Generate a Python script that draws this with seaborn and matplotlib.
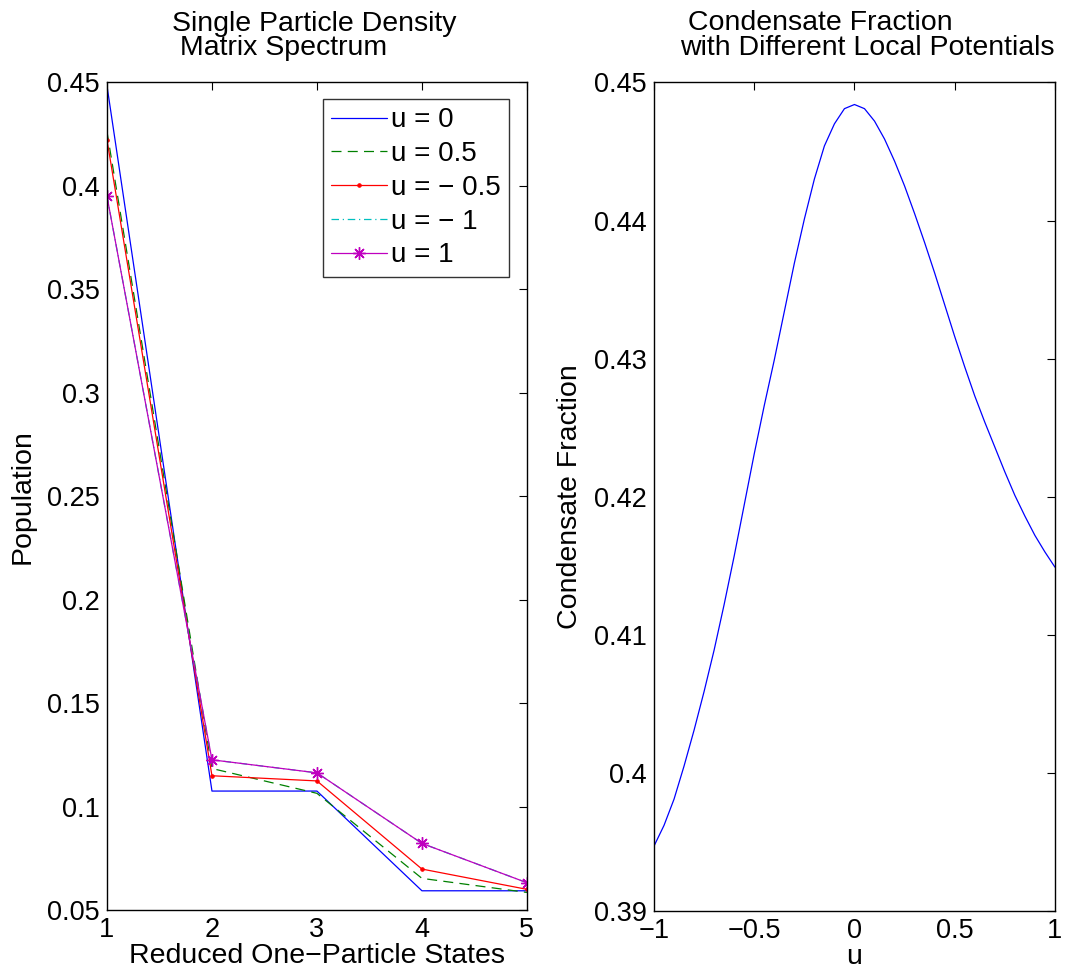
import numpy as np
import pandas as pd
import seaborn as sns
import matplotlib
matplotlib.use("Agg")
import matplotlib.pyplot as plt
from matplotlib.ticker import FuncFormatter

#------------------------------------------------------------------------------------
# data

states = [1, 2, 3, 4, 5]
pop_u0 = [0.4484, 0.1075, 0.1075, 0.0593, 0.0593]
pop_u05 = [0.4262, 0.1184, 0.1064, 0.0653, 0.0585]
pop_um05 = [0.4223, 0.1149, 0.1124, 0.0698, 0.0600]
pop_um1 = [0.3950, 0.1226, 0.1163, 0.0822, 0.0632]
pop_u1 = [0.3950, 0.1226, 0.1163, 0.0822, 0.0632]

u_values = [-1.00, -0.95, -0.90, -0.85, -0.80, -0.75, -0.70, -0.65, -0.60, -0.55,
            -0.50, -0.45, -0.40, -0.35, -0.30, -0.25, -0.20, -0.15, -0.10, -0.05,
            0.00, 0.05, 0.10, 0.15, 0.20, 0.25, 0.30, 0.35, 0.40, 0.45,
            0.50, 0.55, 0.60, 0.65, 0.70, 0.75, 0.80, 0.85, 0.90, 0.95, 1.00]
condensate = [0.3947, 0.3962, 0.3981, 0.4005, 0.4031, 0.4059, 0.4089, 0.4122, 0.4157, 0.4194,
              0.4231, 0.4266, 0.4299, 0.4334, 0.4369, 0.4401, 0.4430, 0.4454, 0.4470, 0.4481,
              0.4484, 0.4481, 0.4472, 0.4459, 0.4443, 0.4425, 0.4405, 0.4384, 0.4362, 0.4339,
              0.4316, 0.4294, 0.4273, 0.4254, 0.4236, 0.4218, 0.4201, 0.4186, 0.4172, 0.4160, 0.4149]

left_yticks = [0.05, 0.1, 0.15, 0.2, 0.25, 0.3, 0.35, 0.4, 0.45]
right_yticks = [0.39, 0.4, 0.41, 0.42, 0.43, 0.44, 0.45]
right_xticks = [-1, -0.5, 0, 0.5, 1]

#------------------------------------------------------------------------------------

sns.set_style("white")
plt.rcParams['font.family'] = ['Liberation Sans', 'DejaVu Sans']
plt.rcParams['axes.linewidth'] = 1.0
plt.rcParams['text.color'] = 'black'
plt.rcParams['axes.labelcolor'] = 'black'

TICK_SIZE = 19.5
LABEL_SIZE = 20.5
TITLE_SIZE = 20.5
LEGEND_SIZE = 20


def fmt_num(v, pos=None):
    return ("%g" % v).replace("-", "\u2212")


def matlab_box(ax):
    """Inward ticks on every side, like a MATLAB box."""
    ax.tick_params(direction="in", length=6, width=0.8, top=True, right=True,
                   labelsize=TICK_SIZE, pad=5, colors="black")
    for s in ax.spines.values():
        s.set_visible(True)
        s.set_color("black")
    ax.xaxis.set_major_formatter(FuncFormatter(fmt_num))
    ax.yaxis.set_major_formatter(FuncFormatter(fmt_num))


fig = plt.figure(figsize=(10.86, 9.8), dpi=100)
ax1 = fig.add_axes([0.0985, 0.0714, 0.3867, 0.8445])
ax2 = fig.add_axes([0.6022, 0.0704, 0.3692, 0.8455])

series = [
    ("u = 0", pop_u0, dict(color=(0, 0, 1), linestyle="-")),
    ("u = 0.5", pop_u05, dict(color=(0, 0.5, 0), linestyle=(0, (8, 5)))),
    ("u = \u2212 0.5", pop_um05, dict(color=(1, 0, 0), linestyle="-", marker="o", markersize=2.5)),
    ("u = \u2212 1", pop_um1, dict(color=(0, 0.75, 0.75), linestyle=(0, (6, 3, 1, 3)))),
    ("u = 1", pop_u1, dict(color=(0.75, 0, 0.75), linestyle="-", marker=(8, 2, 0), markersize=9, markeredgewidth=1.0)),
]

for label, vals, style in series:
    sns.lineplot(x=states, y=vals, ax=ax1, label=label, linewidth=0.9,
                 markeredgecolor=style["color"], **style)

ax1.set_xlim(1, 5)
ax1.set_ylim(0.05, 0.45)
ax1.set_xticks(states)
ax1.set_yticks(left_yticks)
matlab_box(ax1)
ax1.set_xlabel("Reduced One\u2212Particle States", fontsize=LABEL_SIZE, labelpad=0)
ax1.set_ylabel("Population", fontsize=LABEL_SIZE, labelpad=8)
ax1.text(0.155, 1.026, "Single Particle Density\n Matrix Spectrum", transform=ax1.transAxes,
         ha="left", va="bottom", multialignment="left", fontsize=TITLE_SIZE, linespacing=0.92)

leg = ax1.legend(loc="upper right", bbox_to_anchor=(0.958, 0.98), fontsize=LEGEND_SIZE,
                 frameon=True, fancybox=False, edgecolor="black", handlelength=2.0,
                 handletextpad=0.15, borderpad=0.3, labelspacing=0.28, borderaxespad=0)
leg.get_frame().set_linewidth(1.0)
for t in leg.get_texts():
    t.set_color("black")

sns.lineplot(x=u_values, y=condensate, ax=ax2, color=(0, 0, 1), linewidth=0.9)
ax2.set_xlim(-1, 1)
ax2.set_ylim(0.39, 0.45)
ax2.set_xticks(right_xticks)
ax2.set_yticks(right_yticks)
matlab_box(ax2)
ax2.set_xlabel("u", fontsize=LABEL_SIZE, labelpad=0)
ax2.set_ylabel("Condensate Fraction", fontsize=LABEL_SIZE, labelpad=8)
ax2.text(0.065, 1.026, " Condensate Fraction\nwith Different Local Potentials", transform=ax2.transAxes,
         ha="left", va="bottom", multialignment="left", fontsize=TITLE_SIZE, linespacing=0.92)

fig.savefig("out.png", dpi=100, facecolor="white")
